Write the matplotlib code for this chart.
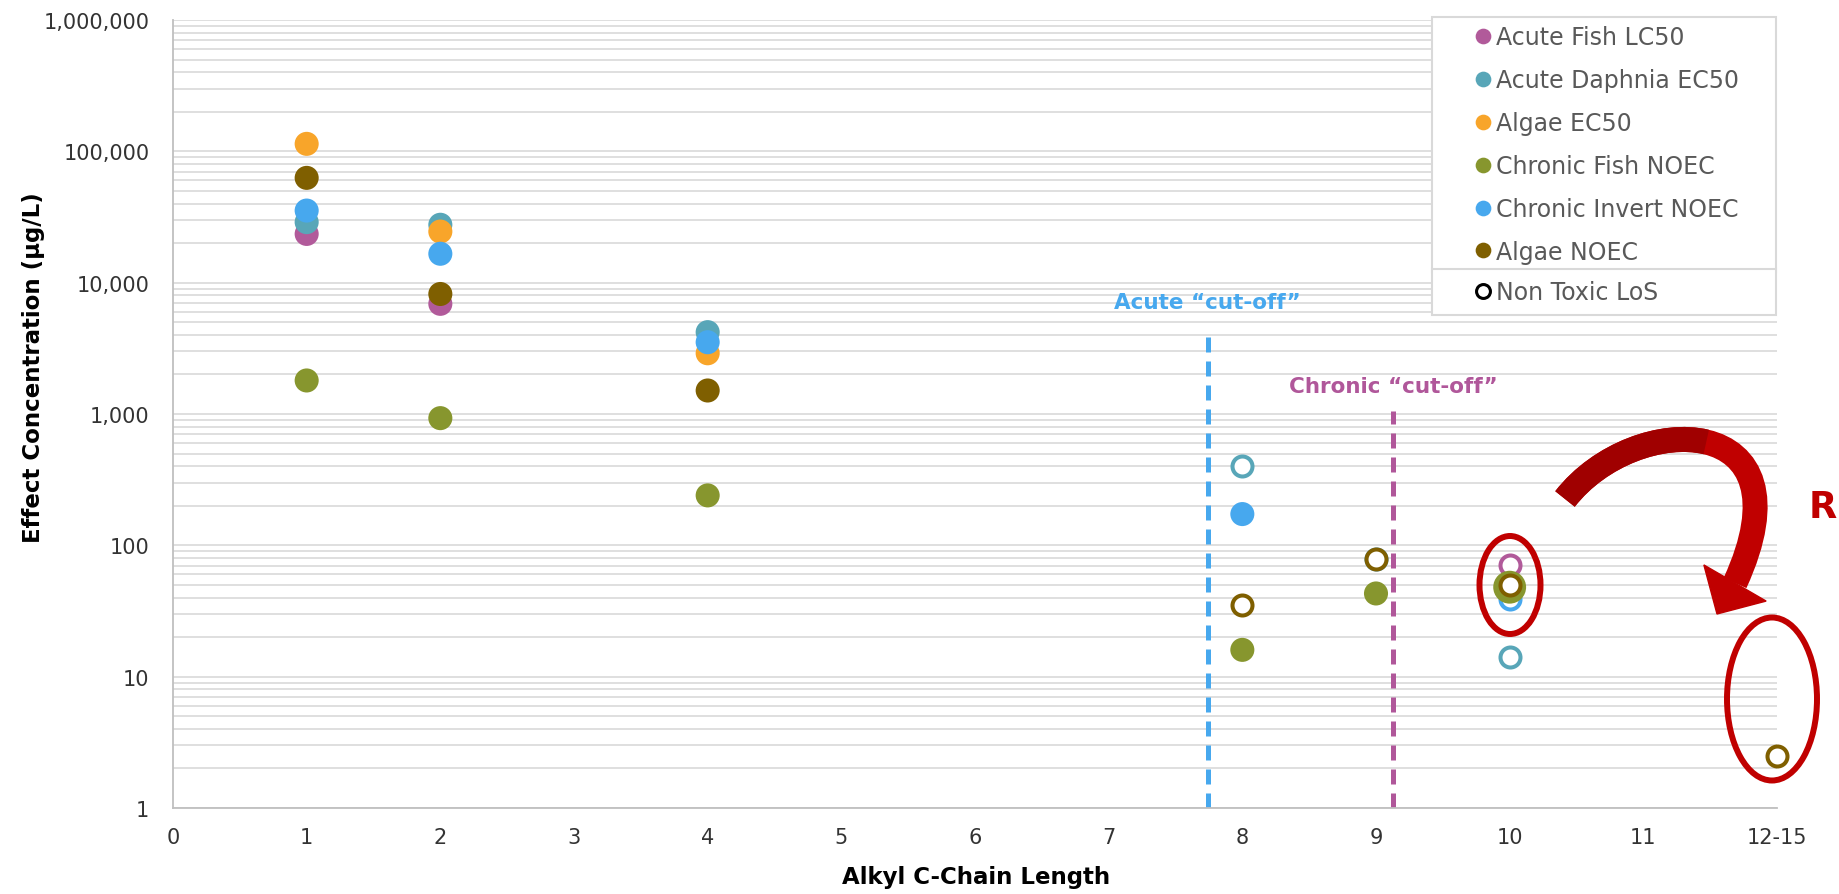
import matplotlib
matplotlib.use("Agg")
import matplotlib.pyplot as plt
import matplotlib.patches as mpatches
import matplotlib.transforms as mtransforms
from matplotlib.path import Path
from matplotlib.lines import Line2D
from matplotlib.ticker import FuncFormatter, LogLocator, NullFormatter
import numpy as np

######################################
# data
######################################
series_names = ["Acute Fish LC50", "Acute Daphnia EC50", "Algae EC50",
                "Chronic Fish NOEC", "Chronic Invert NOEC", "Algae NOEC"]
series_colors = ["#B15A9A", "#58A6B8", "#F8A52A", "#87962E", "#47A8EE", "#7F5F00"]

# toxic (filled) points per series
toxic_x = [[1, 2], [1, 2, 4], [1, 2, 4], [1, 2, 4, 8, 9, 10], [1, 2, 4, 8], [1, 2, 4]]
toxic_y = [[23500, 6900], [28900, 27600, 4200], [114000, 24500, 2900],
           [1800, 930, 240, 16, 43, 48], [35400, 16600, 3520, 173], [62800, 8200, 1510]]

# non toxic at limit of solubility (open) points per series
nontoxic_x = [[10], [8, 10], [], [], [9, 10], [8, 9, 10, 12]]
nontoxic_y = [[71], [400, 14], [], [], [79, 39], [35, 79, 50, 2.5]]

x_ticks = list(range(13))
x_tick_labels = [str(i) for i in range(12)] + ["12-15"]
y_ticks = [1, 10, 100, 1000, 10000, 100000, 1000000]

acute_cutoff_x, acute_cutoff_top = 7.74, 4400
chronic_cutoff_x, chronic_cutoff_top = 9.13, 1050

######################################
# figure
######################################
W, H = 1839, 895
fig = plt.figure(figsize=(W / 100, H / 100), dpi=100)
ax = fig.add_axes([173 / W, 1 - 809 / H, 1604 / W, 788 / H])
# pixel coordinates, y pointing down (for the hand drawn call-outs)
px = mtransforms.Affine2D().scale(1 / W, -1 / H).translate(0, 1) + fig.transFigure

ax.set_yscale("log")
ax.set_xlim(0, 12)
ax.set_ylim(1, 1e6)

tick_color = "#333333"
ax.set_xticks(x_ticks)
ax.set_xticklabels(x_tick_labels)
ax.set_yticks(y_ticks)
ax.yaxis.set_major_formatter(FuncFormatter(lambda v, p: f"{v:,.0f}"))
ax.yaxis.set_minor_locator(LogLocator(base=10, subs=np.arange(2, 10)))
ax.yaxis.set_minor_formatter(NullFormatter())
ax.tick_params(axis="both", which="both", length=0, labelsize=15, colors=tick_color)
ax.tick_params(axis="y", pad=17)
ax.tick_params(axis="x", pad=14)

ax.grid(axis="y", which="both", color="#D9D9D9", linewidth=1.2)
ax.set_axisbelow(True)
for side in ["top", "right"]:
    ax.spines[side].set_visible(False)
for side in ["left", "bottom"]:
    ax.spines[side].set_color("#BFBFBF")
    ax.spines[side].set_linewidth(1.3)

ax.set_xlabel("Alkyl C-Chain Length", fontsize=16.5, fontweight="bold", color="#000000")
ax.set_ylabel("Effect Concentration (µg/L)", fontsize=16.5, fontweight="bold", color="#000000")
ax.xaxis.set_label_coords(0.5004, -0.072)
ax.yaxis.set_label_coords(-0.0798, 0.5597)

######################################
# points
######################################
s_filled = 300
s_big = 560
s_open = 207
for name, c, tx, ty, ox, oy in zip(series_names, series_colors,
                                   toxic_x, toxic_y, nontoxic_x, nontoxic_y):
    tx = np.array(tx)
    sizes = np.where(tx == 10, s_big, s_filled)
    ax.scatter(tx, ty, s=sizes, color=c, edgecolors="none", zorder=3, clip_on=False)
    if ox:
        z = 4 if name == "Algae NOEC" else 2
        ax.scatter(ox, oy, s=s_open, facecolors="white", edgecolors=c,
                   linewidths=2.9, zorder=z, clip_on=False)

######################################
# cut-off lines
######################################
ax.plot([acute_cutoff_x, acute_cutoff_x], [1, acute_cutoff_top], color="#47A8EE",
        lw=3.6, dashes=(3, 1.8), zorder=2.5)
ax.plot([chronic_cutoff_x, chronic_cutoff_x], [1, chronic_cutoff_top], color="#B0579A",
        lw=3.6, dashes=(3, 1.8), zorder=2.5)
ax.text(acute_cutoff_x, 7140, "Acute \u201ccut-off\u201d", color="#47A8EE",
        fontsize=15.5, fontweight="bold", ha="center", va="center")
ax.text(chronic_cutoff_x, 1645, "Chronic \u201ccut-off\u201d", color="#B0579A",
        fontsize=15.5, fontweight="bold", ha="center", va="center")

######################################
# red call-outs
######################################
red = "#C00000"
fig.add_artist(mpatches.Ellipse((1510, 586), 61, 98, transform=px, fill=False,
                                edgecolor=red, lw=4.3, zorder=5))
fig.add_artist(mpatches.Ellipse((1772, 700), 90, 163, transform=px, fill=False,
                                edgecolor=red, lw=4.3, zorder=5))

P0, P1, P2, P3 = [np.array(p, float) for p in [(1565, 500), (1635, 410), (1815, 410), (1735, 584)]]
tip = np.array([1717, 615.0])
body = Path([P0, P1, P2, P3], [Path.MOVETO, Path.CURVE4, Path.CURVE4, Path.CURVE4])
fig.add_artist(mpatches.PathPatch(body, transform=px, fill=False, edgecolor=red,
                                  lw=18, capstyle="butt", zorder=5))
# darker first half
Q1 = (P0 + P1) / 2
Q2 = (P0 + 2 * P1 + P2) / 4
Q3 = (P0 + 3 * P1 + 3 * P2 + P3) / 8
half = Path([P0, Q1, Q2, Q3], [Path.MOVETO, Path.CURVE4, Path.CURVE4, Path.CURVE4])
fig.add_artist(mpatches.PathPatch(half, transform=px, fill=False, edgecolor="#A00000",
                                  lw=18, capstyle="butt", zorder=5))
d = (tip - P3) / np.linalg.norm(tip - P3)
n = np.array([-d[1], d[0]])
head = [P3 + 36 * n, tip, P3 - 36 * n]
fig.add_artist(mpatches.Polygon(head, closed=True, transform=px, color=red, zorder=5))

fig.text(1809 / W, 1 - 508 / H, "R", color=red, fontsize=26.5, fontweight="bold",
         ha="left", va="center")

######################################
# legend
######################################
fs_leg = 17
leg_kw = dict(fontsize=fs_leg, loc="upper left", mode="expand", borderaxespad=0,
              labelspacing=0.80, fancybox=False, framealpha=1, edgecolor="#D9D9D9",
              labelcolor="#595959", bbox_transform=fig.transFigure)
handles = [Line2D([], [], ls="none", marker="o", markersize=11.3, color=c,
                  markeredgewidth=0) for c in series_colors]
leg1 = fig.legend(handles=handles, labels=series_names,
                  bbox_to_anchor=(1432 / W, 1 - 270 / H, 344 / W, 252 / H),
                  borderpad=0.35, handlelength=3.62, handletextpad=-1.26, **leg_kw)
leg1.get_frame().set_linewidth(1.5)
open_handle = Line2D([], [], ls="none", marker="o", markersize=10, markerfacecolor="white",
                     markeredgecolor="black", markeredgewidth=2.2)
leg2 = fig.legend(handles=[open_handle], labels=["Non Toxic LoS"],
                  bbox_to_anchor=(1432 / W, 1 - 316 / H, 344 / W, 46 / H),
                  borderpad=0.47, handlelength=3.39, handletextpad=-1.14, **leg_kw)
leg2.get_frame().set_linewidth(1.5)

fig.savefig("out.png", dpi=100)
